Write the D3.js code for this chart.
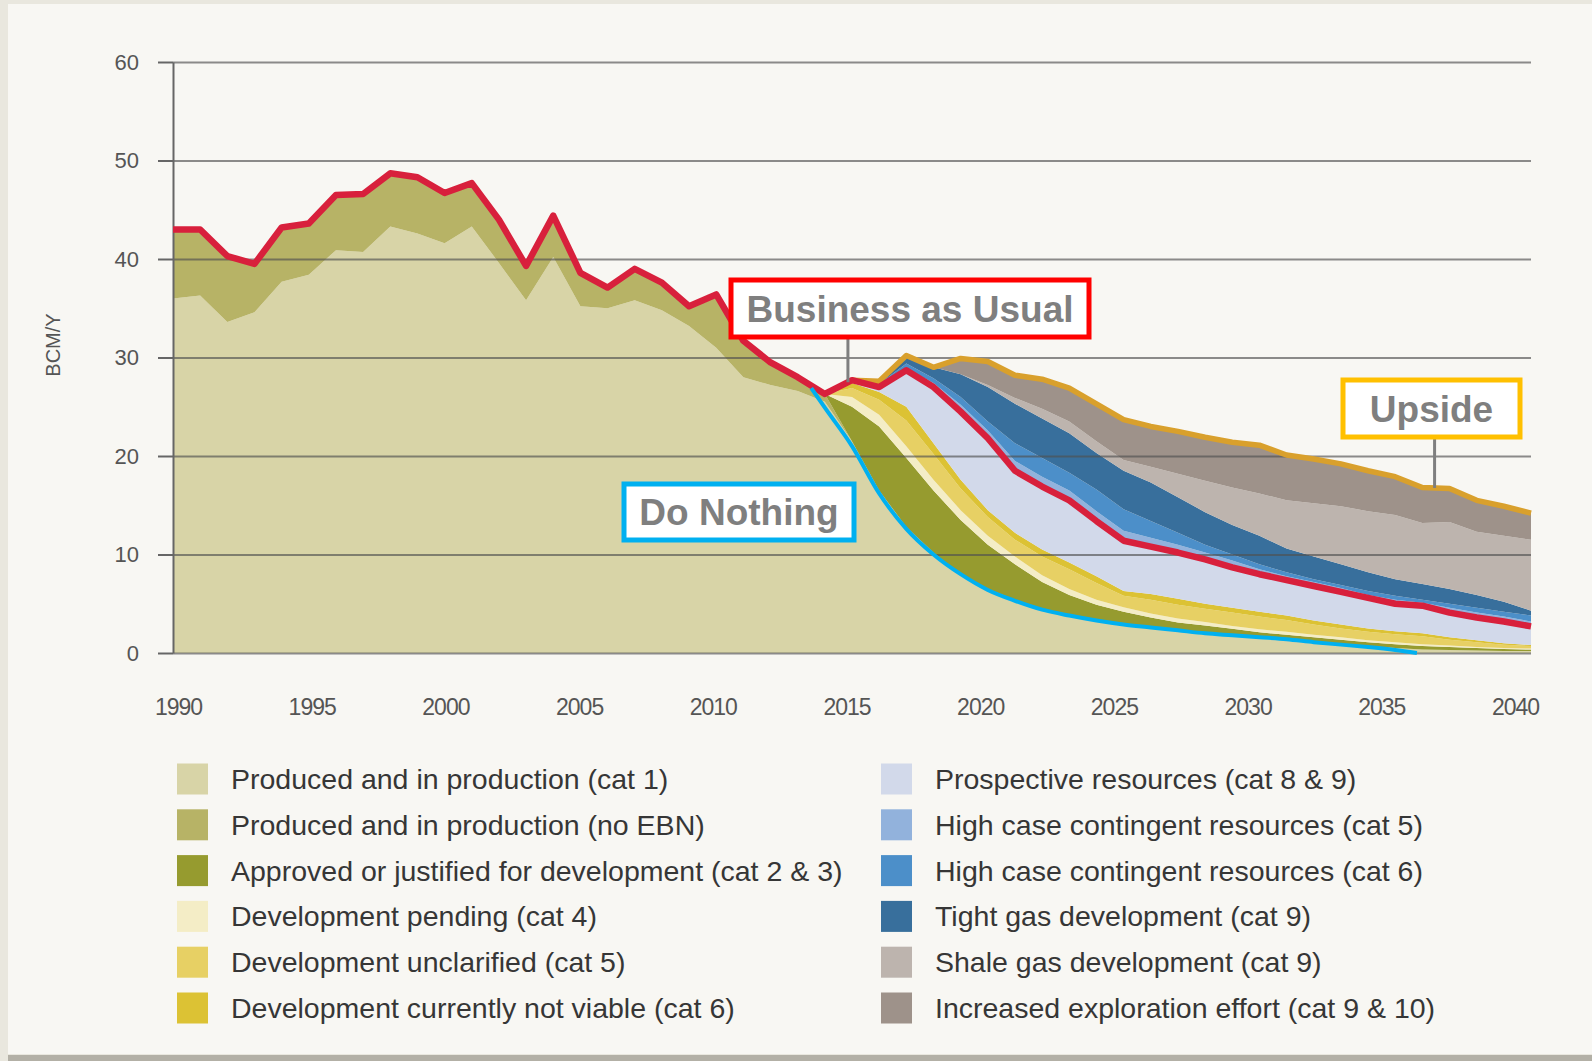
<!DOCTYPE html>
<html lang="en">
<head>
<meta charset="UTF-8">
<title>Gas production outlook</title>
<script src="https://d3js.org/d3.v7.min.js"></script>
<style>
  body, html { margin: 0; padding: 0; background: #e9e7de; overflow: hidden; }
  svg { display: block; }
  .ytick text { font-family: "Liberation Sans", Arial, sans-serif; font-size: 22px; fill: #555; }
  .xtick text { font-family: "Liberation Sans Narrow", "Liberation Sans", Arial, sans-serif; font-size: 23px; fill: #555; }
  .legend-label { font-family: "Liberation Sans", Arial, sans-serif; font-size: 28.5px; fill: #363636; }
  .note { font-family: "Liberation Sans", Arial, sans-serif; font-weight: bold; font-size: 37px; fill: #7f7f7f; }
</style>
</head>
<body>
<svg></svg>
<script>
// years 1990-2040, BCM/Y
const years = d3.range(1990, 2041);
const forecastStart = 2014;

// full series 1990-2040
const cat1 = [36.0, 36.3, 33.6, 34.6, 37.7, 38.4, 40.9, 40.7, 43.3, 42.6, 41.6, 43.3, 39.6, 35.8, 40.2, 35.2, 35.0, 35.8, 34.8, 33.2, 31.0, 28.0, 27.2, 26.6,
              25.5, 21.5, 16.5, 12.8, 10.2, 7.9, 6.5, 5.4, 4.4, 3.8, 3.3, 2.9, 2.6, 2.3, 2.0, 1.75, 1.5, 1.3, 1.1, 0.9, 0.7, 0.5, 0.35, 0.3, 0.25, 0.2, 0.2];
const noEbn = [7.0, 6.7, 6.7, 4.9, 5.5, 5.2, 5.6, 5.9, 5.4, 5.7, 5.1, 4.4, 4.4, 3.5, 4.2, 3.4, 2.1, 3.2, 2.8, 2.0, 5.4, 3.7, 2.3, 1.4,
               0.8, 0, 0, 0, 0, 0, 0, 0, 0, 0, 0, 0, 0, 0, 0, 0, 0, 0, 0, 0, 0, 0, 0, 0, 0, 0, 0];

// forecast series 2014-2040
const cat23 = [0, 3.5, 6.5, 7.0, 6.3, 5.6, 4.5, 3.6, 2.8, 2.1, 1.6, 1.3, 1.0, 0.8, 0.8, 0.7, 0.6, 0.55, 0.5, 0.45, 0.4, 0.4, 0.35, 0.3, 0.25, 0.2, 0.15];
const cat4 = [0, 1.0, 1.2, 1.2, 1.1, 1.0, 0.9, 0.8, 0.7, 0.6, 0.5, 0.45, 0.4, 0.4, 0.35, 0.3, 0.3, 0.3, 0.25, 0.25, 0.2, 0.2, 0.2, 0.15, 0.1, 0.1, 0.1];
const cat5 = [0, 0.9, 1.5, 2.6, 2.6, 2.2, 1.9, 1.7, 1.9, 2.0, 1.7, 1.15, 1.4, 1.4, 1.35, 1.35, 1.3, 1.2, 1.05, 0.9, 0.85, 0.8, 0.8, 0.6, 0.5, 0.35, 0.25];
const cat6 = [0, 0.5, 0.8, 1.4, 1.1, 0.9, 0.7, 0.7, 0.7, 0.7, 0.7, 0.5, 0.6, 0.6, 0.5, 0.5, 0.5, 0.45, 0.4, 0.4, 0.35, 0.3, 0.3, 0.25, 0.2, 0.15, 0.1];
const prospective = [0, 0.3, 0.5, 3.7, 5.7, 6.9, 7.3, 6.3, 6.4, 6.3, 5.6, 5.1, 4.8, 4.7, 4.5, 4.1, 3.8, 3.6, 3.5, 3.3, 3.1, 2.8, 2.8, 2.5, 2.3, 2.2, 1.9];
const highCat5 = [0, 0, 0.2, 0.2, 0.4, 0.7, 0.8, 1.0, 1.0, 1.0, 1.0, 1.0, 0.9, 0.8, 0.7, 0.7, 0.5, 0.4, 0.4, 0.4, 0.3, 0.4, 0.3, 0.5, 0.5, 0.5, 0.5];
const highCat6 = [0, 0, 0.1, 0.5, 0.5, 0.8, 0.9, 1.8, 1.9, 1.8, 2.2, 2.2, 1.7, 1.2, 0.8, 0.6, 0.5, 0.4, 0.3, 0.3, 0.4, 0.4, 0.3, 0.4, 0.5, 0.5, 0.6];
const tightGas = [0, 0, 0.3, 0.8, 1.1, 2.3, 3.5, 4.0, 4.0, 4.0, 3.7, 3.9, 3.9, 3.6, 3.3, 3.0, 2.9, 2.4, 2.3, 2.1, 1.9, 1.7, 1.6, 1.5, 1.3, 1.0, 0.5];
const shaleGas = [0, 0, 0, 0, 0, 0, 0.2, 0.6, 1.0, 1.2, 1.2, 1.1, 1.6, 2.4, 3.2, 3.8, 4.3, 4.9, 5.4, 5.9, 6.2, 6.5, 6.2, 6.8, 6.4, 6.7, 7.2];
const exploration = [0, 0, 0, 0, 0, 1.6, 2.4, 2.3, 3.0, 3.4, 3.8, 4.1, 4.1, 4.3, 4.4, 4.6, 4.9, 4.6, 4.5, 4.3, 4.1, 3.9, 3.6, 3.4, 3.2, 3.0, 2.7];

// hand-drawn "Do Nothing" line
const doNothingYears = [2013.5, 2014, 2015, 2016, 2017, 2018, 2019, 2020, 2021, 2022, 2023, 2024, 2025, 2026, 2027, 2028, 2029, 2030, 2031, 2032, 2033, 2034, 2035, 2035.8];
const doNothingValues = [26.9, 24.9, 21.0, 16.2, 12.6, 10.0, 8.0, 6.4, 5.3, 4.4, 3.8, 3.3, 2.9, 2.6, 2.3, 2.0, 1.8, 1.6, 1.4, 1.1, 0.85, 0.6, 0.3, 0.0];

const yTicks = [0, 10, 20, 30, 40, 50, 60];
const xTicks = [1990, 1995, 2000, 2005, 2010, 2015, 2020, 2025, 2030, 2035, 2040];

const layers = [
  {key: "cat1", values: cat1, start: 1990, color: "#d8d4a7", label: "Produced and in production (cat 1)"},
  {key: "noEbn", values: noEbn, start: 1990, color: "#b7b366", label: "Produced and in production (no EBN)"},
  {key: "cat23", values: cat23, start: forecastStart, color: "#969b2f", label: "Approved or justified for development (cat 2 & 3)"},
  {key: "cat4", values: cat4, start: forecastStart, color: "#f4edc6", label: "Development pending (cat 4)"},
  {key: "cat5", values: cat5, start: forecastStart, color: "#e7d064", label: "Development unclarified (cat 5)"},
  {key: "cat6", values: cat6, start: forecastStart, color: "#dcc234", label: "Development currently not viable (cat 6)"},
  {key: "prospective", values: prospective, start: forecastStart, color: "#d2d9ea", label: "Prospective resources (cat 8 & 9)"},
  {key: "highCat5", values: highCat5, start: forecastStart, color: "#92b2dc", label: "High case contingent resources (cat 5)"},
  {key: "highCat6", values: highCat6, start: forecastStart, color: "#4c8fc9", label: "High case contingent resources (cat 6)"},
  {key: "tightGas", values: tightGas, start: forecastStart, color: "#386f9c", label: "Tight gas development (cat 9)"},
  {key: "shaleGas", values: shaleGas, start: forecastStart, color: "#bdb4ae", label: "Shale gas development (cat 9)"},
  {key: "exploration", values: exploration, start: forecastStart, color: "#9e928a", label: "Increased exploration effort (cat 9 & 10)"}
];

const W = 1592, H = 1061;
const svg = d3.select("svg").attr("width", W).attr("height", H);

// page panel
svg.append("rect").attr("width", W).attr("height", H).attr("fill", "#e9e7de");
svg.append("rect").attr("x", 8).attr("y", 4).attr("width", W - 8).attr("height", 1050).attr("fill", "#f8f7f3");
svg.append("rect").attr("x", 8).attr("y", 1055).attr("width", W - 8).attr("height", 6).attr("fill", "#b3b0a6");

const x = d3.scaleLinear().domain([1990, 2040]).range([173, 1531]);
const xLabel = d3.scaleLinear().domain([1990, 2040]).range([178, 1515]);
const y = d3.scaleLinear().domain([0, 60]).range([653, 62]);

const rows = years.map(yr => {
  const r = {year: yr};
  layers.forEach(l => {
    const i = yr - l.start;
    r[l.key] = i >= 0 && i < l.values.length ? l.values[i] : 0;
  });
  return r;
});

const stacked = d3.stack().keys(layers.map(l => l.key))(rows);

const area = d3.area()
  .x(d => x(d.data.year))
  .y0(d => y(d[0]))
  .y1(d => y(d[1]));

svg.append("g").selectAll("path")
  .data(stacked)
  .enter().append("path")
  .attr("d", area)
  .attr("fill", (d, i) => layers[i].color);

// gridlines over the areas
const grid = svg.append("g")
  .attr("transform", "translate(173,0)")
  .call(d3.axisRight(y).tickValues(yTicks).tickSize(1358).tickFormat(""));
grid.select(".domain").remove();
grid.selectAll("line").attr("stroke", "#505050").attr("stroke-opacity", 0.65).attr("stroke-width", 2);

// y axis
const yAxis = svg.append("g")
  .attr("class", "ytick")
  .attr("transform", "translate(173,0)")
  .call(d3.axisLeft(y).tickValues(yTicks).tickSize(15).tickSizeOuter(0).tickPadding(19));
yAxis.select(".domain").attr("stroke", "#666").attr("stroke-width", 2);
yAxis.selectAll("line").attr("stroke", "#666").attr("stroke-width", 2);

// x axis labels
const xAxis = svg.append("g")
  .attr("class", "xtick")
  .attr("transform", "translate(0,699)")
  .call(d3.axisBottom(xLabel).tickValues(xTicks).tickSize(0).tickPadding(0).tickFormat(d3.format("d")));
xAxis.select(".domain").remove();
xAxis.selectAll("text").attr("letter-spacing", "-1px");

svg.append("text")
  .attr("transform", "translate(53,345) rotate(-90)")
  .attr("text-anchor", "middle")
  .attr("dy", "0.35em")
  .style("font-family", "Liberation Sans, Arial, sans-serif")
  .style("font-size", "20px")
  .attr("fill", "#555")
  .text("BCM/Y");

// Business as usual = top of prospective layer; Upside = top of whole stack
const bauIndex = layers.findIndex(l => l.key === "prospective");
const bau = stacked[bauIndex].map(d => ({year: d.data.year, v: d[1]}));
const upside = stacked[stacked.length - 1].map(d => ({year: d.data.year, v: d[1]}))
  .filter(d => d.year >= 2015);

const line = d3.line().x(d => x(d.year)).y(d => y(d.v));

svg.append("path")
  .attr("d", line(upside))
  .attr("fill", "none")
  .attr("stroke", "#d9a02c")
  .attr("stroke-width", 5.5)
  .attr("stroke-linejoin", "round");

svg.append("path")
  .attr("d", line(bau))
  .attr("fill", "none")
  .attr("stroke", "#d8203c")
  .attr("stroke-width", 6.5)
  .attr("stroke-linejoin", "round");

const doNothing = doNothingYears.map((yr, i) => ({year: yr, v: doNothingValues[i]}));
svg.append("path")
  .attr("d", line.curve(d3.curveMonotoneX)(doNothing))
  .attr("fill", "none")
  .attr("stroke", "#00b0f0")
  .attr("stroke-width", 4);

// annotations
function valueAt(series, yr) {
  const i = Math.floor(yr - 1990);
  const a = series.find(d => d.year === 1990 + i);
  const b = series.find(d => d.year === 1990 + i + 1) || a;
  return a.v + (b.v - a.v) * (yr - 1990 - i);
}

const notes = [
  {text: "Business as Usual", color: "#ff0000", x0: 731, y0: 280, x1: 1089, y1: 337, year: 2014.85, series: bau},
  {text: "Do Nothing", color: "#00b0f0", x0: 624, y0: 484, x1: 854, y1: 540},
  {text: "Upside", color: "#ffc000", x0: 1343, y0: 380, x1: 1520, y1: 437, year: 2036.45, series: upside}
];

notes.forEach(n => {
  if (n.series) {
    svg.append("line")
      .attr("x1", x(n.year)).attr("x2", x(n.year))
      .attr("y1", n.y1).attr("y2", y(valueAt(n.series, n.year)))
      .attr("stroke", "#7f7f7f").attr("stroke-width", 3);
  }
  svg.append("rect")
    .attr("x", n.x0).attr("y", n.y0)
    .attr("width", n.x1 - n.x0).attr("height", n.y1 - n.y0)
    .attr("fill", "#fff")
    .attr("stroke", n.color).attr("stroke-width", 5);
  svg.append("text")
    .attr("class", "note")
    .attr("x", (n.x0 + n.x1) / 2).attr("y", (n.y0 + n.y1) / 2)
    .attr("dy", "0.36em")
    .attr("text-anchor", "middle")
    .text(n.text);
});

// legend
const legend = svg.append("g").selectAll("g")
  .data(layers)
  .enter().append("g")
  .attr("transform", (d, i) => `translate(${i < 6 ? 177 : 881},${779 + (i % 6) * 45.8})`);

legend.append("rect")
  .attr("x", 0).attr("y", -15.5)
  .attr("width", 31).attr("height", 31)
  .attr("fill", d => d.color);

legend.append("text")
  .attr("class", "legend-label")
  .attr("x", 54)
  .attr("dy", "0.35em")
  .text(d => d.label);
</script>
</body>
</html>
